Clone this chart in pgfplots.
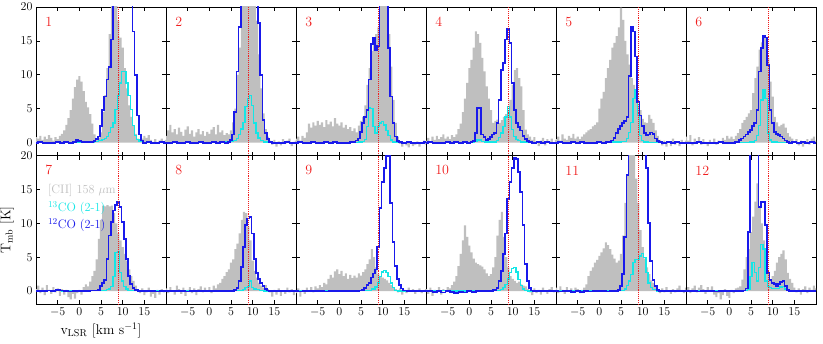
\documentclass[border=0pt]{standalone}
\usepackage{pgfplots}
\pgfplotsset{compat=1.18}
\usepgfplotslibrary{groupplots}
\definecolor{ciigray}{RGB}{191,191,191}
\definecolor{coblue}{RGB}{25,25,235}
\definecolor{cocyan}{RGB}{20,230,230}
\definecolor{vred}{RGB}{240,30,30}
\pgfplotsset{
  cii/.style={fill=ciigray, draw=none, const plot mark mid},
  c13/.style={cocyan, line width=1.3pt, const plot mark mid},
  c12/.style={coblue, line width=1.8pt, const plot mark mid},
  vline/.style={vred, densely dotted, line width=0.9pt},
}
\tikzset{num/.style={vred, anchor=west, font=\fontsize{14}{14}\selectfont},
  leg/.style={anchor=west, inner sep=0pt, font=\fontsize{12.3}{12.3}\selectfont}}
\begin{document}
\begin{tikzpicture}
\begin{groupplot}[
  group style={group size=6 by 2, horizontal sep=0pt, vertical sep=0pt,
    xticklabels at=edge bottom, yticklabels at=edge left},
  scale only axis, width=130pt, height=148.5pt,
  xmin=-10, xmax=20, ymin=-1.9, ymax=20,
  xtick={-5,0,5,10,15}, ytick={0,5,10,15,20},
  tick pos=both, tick align=inside, major tick length=4pt,
  axis line style={line width=0.8pt}, every tick/.style={black, line width=0.8pt},
  tick label style={font=\fontsize{12}{12}\selectfont},
  label style={font=\fontsize{14}{14}\selectfont},
]
% ---------- 1 ----------
\nextgroupplot
\addplot[cii] coordinates {(-10,0.8)(-9.5,0.6)(-9,1.0)(-8.5,0.4)(-8,0.9)(-7.5,0.5)(-7,1.1)(-6.5,0.7)(-6,0.3)(-5.5,0.8)(-5,0.5)(-4.5,1.0)(-4,1.3)(-3.5,1.8)(-3,2.6)(-2.5,3.6)(-2,4.8)(-1.5,6.5)(-1,8.2)(-0.5,9.3)(0,9.8)(0.5,9.0)(1,7.6)(1.5,6.0)(2,5.2)(2.5,4.2)(3,2.8)(3.5,1.2)(4,0.4)(4.5,0.7)(5,1.5)(5.5,4.5)(6,7)(6.5,11)(7,16)(7.5,20.5)(8,22)(8.5,21.5)(9,18)(9.5,15.5)(10,14)(10.5,11)(11,8)(11.5,5.5)(12,3.8)(12.5,2.5)(13,1.3)(13.5,0.6)(14,0.2)(14.5,0.6)(15,1.0)(15.5,0.7)(16,1.1)(16.5,0.4)(17,0.1)(17.5,0.5)(18,-0.2)(18.5,0.3)(19,0.6)(19.5,0.2)(20,0.4)} \closedcycle;
\addplot[c13] coordinates {(-10,0)(-8,0.05)(-6,0)(-4,0.05)(-2,0)(0,0.1)(2,0)(3,0.1)(4,0.2)(5,0.3)(5.5,0.5)(6,0.6)(6.5,0.9)(7,1.5)(7.5,2.2)(8,2.9)(8.5,4.9)(9,6.9)(9.5,8.8)(10,10.5)(10.5,10.5)(11,8.8)(11.5,6.9)(12,4.9)(12.5,2.5)(13,1.0)(13.5,0.5)(14,0.2)(15,0.05)(16,0)(18,0.05)(20,0)};
\addplot[c12] coordinates {(-10,0)(-9,0.1)(-8,0)(-7,-0.1)(-6,0)(-5,0.1)(-4,0)(-3,0.1)(-2,0)(-1,0.15)(-0.5,0.35)(0,0.2)(1,0.05)(2,0.1)(3,0.1)(3.5,0.2)(4,0.5)(4.5,0.9)(5,2.4)(5.5,4.8)(6,6.8)(6.5,9.3)(7,11.2)(7.5,15.2)(8,30)(12,30)(12.5,16.4)(13,10)(13.5,4)(14,1.2)(14.5,0.3)(15,0)(16,0.1)(17,0)(18,-0.05)(19,0.05)(20,0)};
\addplot[vline] coordinates {(9,-2)(9,21)};
\node[num] at (rel axis cs:0.045,0.9) {1};
% ---------- 2 ----------
\nextgroupplot
\addplot[cii] coordinates {(-10,1.0)(-9.5,1.8)(-9,2.6)(-8.5,1.5)(-8,2.0)(-7.5,1.2)(-7,2.2)(-6.5,1.6)(-6,1.0)(-5.5,1.9)(-5,2.4)(-4.5,1.3)(-4,1.8)(-3.5,0.9)(-3,1.5)(-2.5,2.0)(-2,1.2)(-1.5,1.7)(-1,1.0)(-0.5,1.6)(0,1.3)(0.5,1.9)(1,2.3)(1.5,1.2)(2,2.6)(2.5,1.5)(3,1.8)(3.5,1.1)(4,1.4)(4.5,1.2)(5,1.8)(5.5,3.0)(6,5.0)(6.5,10)(7,14)(7.5,21)(8,24)(8.5,24)(9,24)(9.5,24)(10,24)(10.5,24)(11,18)(11.5,13)(12,8)(12.5,4.3)(13,2.0)(13.5,0.9)(14,0.3)(14.5,-0.3)(15,0.4)(15.5,-0.6)(16,0.2)(16.5,-0.4)(17,0.5)(17.5,-0.2)(18,0.3)(18.5,0.6)(19,-0.5)(19.5,0.1)(20,0.3)} \closedcycle;
\addplot[c13] coordinates {(-10,0)(-6,0.05)(-2,0)(2,0.05)(4,0.1)(5,0.2)(6,0.3)(6.5,0.6)(7,1.2)(7.5,2.0)(8,3.0)(8.5,5.3)(9,6.5)(9.5,6.9)(10,5.5)(10.5,2.9)(11,1.4)(11.5,0.7)(12,0.3)(13,0.1)(14,0)(20,0)};
\addplot[c12] coordinates {(-10,-0.1)(-9,0)(-8,0.1)(-7,-0.05)(-6,0)(-5,0.05)(-4,-0.1)(-3,0)(-2,0.05)(-1,-0.05)(0,0)(1,0.05)(2,0)(3,0.05)(4,0)(4.5,0.1)(5,0.4)(5.5,1.2)(6,4.5)(6.5,10.5)(7,17)(7.5,30)(11,30)(11.5,17.6)(12,10)(12.5,3.3)(13,1.4)(13.5,0.5)(14,0.1)(15,0)(16,-0.05)(17,0)(18,0.05)(19,-0.05)(20,0)};
\addplot[vline] coordinates {(9,-2)(9,21)};
\node[num] at (rel axis cs:0.045,0.9) {2};
% ---------- 3 ----------
\nextgroupplot
\addplot[cii] coordinates {(-10,0.6)(-9.5,0.9)(-9,0.3)(-8.5,1.0)(-8,0.7)(-7.5,1.5)(-7,2.8)(-6.5,2.2)(-6,3.0)(-5.5,2.5)(-5,3.2)(-4.5,2.6)(-4,3.0)(-3.5,2.3)(-3,3.3)(-2.5,2.7)(-2,3.1)(-1.5,2.4)(-1,3.6)(-0.5,2.8)(0,2.5)(0.5,3.0)(1,2.2)(1.5,2.6)(2,2.0)(2.5,2.3)(3,1.7)(3.5,2.1)(4,1.5)(4.5,2.5)(5,3.2)(5.5,3.8)(6,5.5)(6.5,8.5)(7,11)(7.5,13.5)(8,15)(8.5,16)(9,17)(9.5,24)(10,24)(10.5,24)(11,22)(11.5,16)(12,11.2)(12.5,6.3)(13,2.9)(13.5,0.9)(14,-0.2)(14.5,-0.6)(15,0.1)(15.5,-0.4)(16,-0.7)(16.5,0.2)(17,-0.5)(17.5,-0.3)(18,0.2)(18.5,-0.6)(19,-0.2)(19.5,0.3)(20,-0.3)} \closedcycle;
\addplot[c13] coordinates {(-10,0)(-6,0.05)(-2,0)(2,0.05)(4,0.05)(5,0.1)(5.5,0.2)(6,0.5)(6.5,2.4)(7,5.1)(7.5,5.0)(8,2.4)(8.5,1.4)(9,2.4)(9.5,2.9)(10,3.1)(10.5,2.6)(11,1.8)(11.5,1.0)(12,0.4)(12.5,0.1)(14,0)(20,0)};
\addplot[c12] coordinates {(-10,0)(-9,0.05)(-8,-0.05)(-7,0)(-6,0.1)(-5,0)(-4,-0.05)(-3,0.05)(-2,0)(-1,0.05)(0,0)(1,-0.05)(2,0)(3,0.05)(3.5,0.1)(4,0.3)(4.5,0.6)(5,1.6)(5.5,2.9)(6,3.8)(6.5,4.8)(7,9.3)(7.5,14.5)(8,15.4)(8.5,13.7)(9,14.2)(9.5,30)(11,30)(11.5,14)(12,6.8)(12.5,2.9)(13,0.9)(13.5,0.2)(14,0.05)(15,0)(16,0.05)(17,0)(18,-0.05)(19,0)(20,0.05)};
\addplot[vline] coordinates {(9,-2)(9,21)};
\node[num] at (rel axis cs:0.045,0.9) {3};
% ---------- 4 ----------
\nextgroupplot
\addplot[cii] coordinates {(-10,0.3)(-9.5,0.7)(-9,0.2)(-8.5,0.9)(-8,0.4)(-7.5,1.0)(-7,0.5)(-6.5,0.8)(-6,1.2)(-5.5,0.6)(-5,0.9)(-4.5,0.5)(-4,1.1)(-3.5,0.8)(-3,1.2)(-2.5,2.0)(-2,2.8)(-1.5,4.5)(-1,6.5)(-0.5,8.8)(0,11)(0.5,12.2)(1,14)(1.5,16.4)(2,16.0)(2.5,14.7)(3,12.5)(3.5,10.5)(4,8.3)(4.5,6.5)(5,4.8)(5.5,2.9)(6,3.2)(6.5,3.4)(7,2.9)(7.5,3.3)(8,3.8)(8.5,4.2)(9,4.8)(9.5,6.3)(10,8.5)(10.5,10.7)(11,11)(11.5,9.5)(12,8.3)(12.5,4.8)(13,1.9)(13.5,1.2)(14,0.9)(14.5,0.4)(15,0.8)(15.5,0.2)(16,-0.5)(16.5,0.3)(17,0.7)(17.5,-0.4)(18,0.5)(18.5,0.2)(19,0.6)(19.5,-0.2)(20,0.4)} \closedcycle;
\addplot[c13] coordinates {(-10,0)(-6,0.05)(-2,0)(0,0.05)(1,0.05)(1.5,0.2)(2,0.4)(2.5,0.4)(3,0.2)(4,0.1)(6,0.1)(6.5,0.3)(7,0.8)(7.5,1.4)(8,2.4)(8.5,3.8)(9,5.3)(9.5,3.8)(10,1.9)(10.5,0.9)(11,0.5)(11.5,0.3)(12,0.1)(14,0)(20,0)};
\addplot[c12] coordinates {(-10,0)(-9,0.05)(-8,0)(-7,-0.05)(-6,0)(-5,0.05)(-4,0)(-3,0.05)(-2,0)(-1,0.05)(0,0)(0.5,0.05)(1,0.2)(1.5,1.4)(2,5.1)(2.5,5.1)(3,1.2)(3.5,0.8)(4,0.4)(4.5,0.5)(5,0.8)(5.5,1.2)(6,1.4)(6.5,2.9)(7,6.3)(7.5,10.7)(8,11.7)(8.5,15.2)(9,16.7)(9.5,14.7)(10,8.8)(10.5,4.8)(11,2.9)(11.5,2.3)(12,1.8)(12.5,1.0)(13,0.5)(13.5,0.2)(14,0.05)(15,0)(16,0.05)(17,0)(18,0.05)(19,0)(20,0)};
\addplot[vline] coordinates {(9,-2)(9,21)};
\node[num] at (rel axis cs:0.045,0.9) {4};
% ---------- 5 ----------
\nextgroupplot
\addplot[cii] coordinates {(-10,0.5)(-9.5,0.9)(-9,0.3)(-8.5,1.2)(-8,0.6)(-7.5,0.4)(-7,1.0)(-6.5,0.7)(-6,1.3)(-5.5,0.6)(-5,0.9)(-4.5,0.5)(-4,0.9)(-3.5,1.2)(-3,1.5)(-2.5,1.8)(-2,2.0)(-1.5,2.4)(-1,2.6)(-0.5,3.0)(0,5.0)(0.5,6.5)(1,7.5)(1.5,9.5)(2,11)(2.5,12.2)(3,14)(3.5,14.7)(4,15.7)(4.5,17)(5,19.9)(5.5,18.1)(6,15)(6.5,13)(7,11.5)(7.5,9.5)(8,8.5)(8.5,6.5)(9,5.5)(9.5,4.8)(10,3.5)(10.5,3.0)(11,2.9)(11.5,4.1)(12,3.5)(12.5,2.9)(13,1.8)(13.5,1.0)(14,0.4)(14.5,-0.4)(15,0.3)(15.5,-0.6)(16,0.2)(16.5,-0.5)(17,0.6)(17.5,-0.3)(18,0.2)(18.5,-0.5)(19,0.4)(19.5,-0.2)(20,0.3)} \closedcycle;
\addplot[c13] coordinates {(-10,0)(-6,0.05)(-2,0)(2,0.05)(4,0.1)(6,0.2)(6.5,0.6)(7,1.5)(7.5,3)(8,6.5)(8.5,7.8)(9,4)(9.5,1.0)(10,0.3)(10.5,0.1)(12,0.05)(14,0)(20,0)};
\addplot[c12] coordinates {(-10,0)(-9,0.05)(-8,-0.05)(-7,0)(-6,0.05)(-5,0)(-4,0.05)(-3,0)(-2,-0.05)(-1,0)(0,0.05)(1,0)(2,0.05)(2.5,0.1)(3,0.3)(3.5,0.7)(4,1.4)(4.5,2.0)(5,2.4)(5.5,2.9)(6,3.2)(6.5,3.8)(7,9.8)(7.5,17.1)(8,16.4)(8.5,12.7)(9,6)(9.5,4.0)(10,2.5)(10.5,1.4)(11,1.1)(11.5,1.2)(12,1.5)(12.5,1.3)(13,0.6)(13.5,0.2)(14,0.05)(15,0)(16,0.05)(17,0)(18,0.05)(19,0)(20,0)};
\addplot[vline] coordinates {(9,-2)(9,21)};
\node[num] at (rel axis cs:0.045,0.9) {5};
% ---------- 6 ----------
\nextgroupplot
\addplot[cii] coordinates {(-10,0.9)(-9.5,0.3)(-9,1.1)(-8.5,-0.4)(-8,0.6)(-7.5,0.2)(-7,0.8)(-6.5,-0.3)(-6,0.5)(-5.5,0.1)(-5,-0.5)(-4.5,0.4)(-4,0.0)(-3.5,0.6)(-3,-0.3)(-2.5,0.3)(-2,0.1)(-1.5,0.7)(-1,0.4)(-0.5,1.0)(0,0.6)(0.5,0.9)(1,0.5)(1.5,1.0)(2,1.4)(2.5,2.0)(3,2.9)(3.5,3.3)(4,3.8)(4.5,4.3)(5,4.8)(5.5,7.3)(6,9.5)(6.5,11.2)(7,13.7)(7.5,14.8)(8,15.7)(8.5,15.5)(9,12.5)(9.5,9)(10,6.8)(10.5,3.8)(11,3.0)(11.5,2.4)(12,2.6)(12.5,2.8)(13,2.2)(13.5,1.4)(14,0.9)(14.5,0.6)(15,0.0)(15.5,0.5)(16,-0.4)(16.5,0.3)(17,-0.6)(17.5,0.2)(18,0.5)(18.5,-0.3)(19,0.6)(19.5,0.9)(20,0.3)} \closedcycle;
\addplot[c13] coordinates {(-10,0)(-6,0.05)(-2,0)(2,0.05)(4,0.05)(5.5,0.1)(6,0.3)(6.5,1.0)(7,2.5)(7.5,6.3)(8,7.8)(8.5,6.5)(9,1.4)(9.5,0.4)(10,0.1)(12,0.05)(14,0)(20,0)};
\addplot[c12] coordinates {(-10,0)(-9,-0.05)(-8,0)(-7,0.05)(-6,-0.05)(-5,0)(-4,-0.1)(-3,0)(-2,0.05)(-1,0)(0,-0.05)(1,0)(1.5,0.05)(2,0.1)(2.5,0.4)(3,0.6)(3.5,0.9)(4,1.2)(4.5,1.6)(5,1.9)(5.5,2.4)(6,2.9)(6.5,4.8)(7,10.5)(7.5,13.9)(8,15.7)(8.5,15.5)(9,11.5)(9.5,4.8)(10,2.9)(10.5,1.6)(11,1.3)(11.5,1.1)(12,0.9)(12.5,0.6)(13,0.3)(13.5,0.1)(14,0)(15,0.05)(16,0)(17,0.05)(18,0)(19,0.05)(20,0)};
\addplot[vline] coordinates {(9,-2)(9,21)};
\node[num] at (rel axis cs:0.045,0.9) {6};
% ---------- 7 ----------
\nextgroupplot[xlabel={v$_\mathrm{LSR}$ [km s$^{-1}$]}, ylabel={T$_\mathrm{mb}$ [K]}]
\addplot[cii] coordinates {(-10,0.3)(-9.5,0.8)(-9,-0.3)(-8.5,0.5)(-8,-0.6)(-7.5,0.9)(-7,0.2)(-6.5,-0.4)(-6,0.6)(-5.5,-0.2)(-5,0.4)(-4.5,-0.7)(-4,0.3)(-3.5,-0.5)(-3,0.2)(-2.5,-0.9)(-2,-1.2)(-1.5,-0.4)(-1,-1.1)(-0.5,-0.3)(0,0.2)(0.5,-0.5)(1,0.6)(1.5,1.0)(2,0.7)(2.5,1.4)(3,2.2)(3.5,3.0)(4,4.7)(4.5,7.7)(5,10.5)(5.5,12.6)(6,12.5)(6.5,12.7)(7,12.5)(7.5,12.6)(8,11.5)(8.5,10)(9,8.5)(9.5,7.5)(10,6.5)(10.5,5.5)(11,4.5)(11.5,3.2)(12,2.2)(12.5,1.5)(13,0.8)(13.5,0.3)(14,-0.3)(14.5,0.4)(15,-0.6)(15.5,-0.2)(16,0.5)(16.5,-0.8)(17,-0.4)(17.5,-1.0)(18,0.2)(18.5,-0.5)(19,0.3)(19.5,-0.2)(20,0.1)} \closedcycle;
\addplot[c13] coordinates {(-10,0)(-6,0.05)(-2,0)(2,0.05)(4,0.05)(6,0.1)(6.5,0.2)(7,0.3)(7.5,0.7)(8,2.2)(8.5,5.7)(9,5.8)(9.5,2.7)(10,1.5)(10.5,0.7)(11,0.3)(11.5,0.1)(13,0.05)(15,0)(20,0)};
\addplot[c12] coordinates {(-10,0)(-9,0.05)(-8,0)(-7,0.1)(-6,0.05)(-5,0.2)(-4,0.1)(-3,0)(-2,-0.05)(-1,0)(0,0.05)(1,0)(2,0.05)(3,0.1)(4,0.1)(4.5,0.2)(5,0.7)(5.5,1.2)(6,1.7)(6.5,4.7)(7,8.2)(7.5,10.2)(8,11.9)(8.5,12.7)(9,13.2)(9.5,12.4)(10,10.2)(10.5,7.7)(11,4.7)(11.5,2.2)(12,1.0)(12.5,0.5)(13,0.2)(14,0.05)(15,0)(16,0.05)(17,0)(18,-0.05)(19,0)(20,0)};
\addplot[vline] coordinates {(9,-2)(9,21)};
\node[num] at (rel axis cs:0.045,0.9) {7};
\coordinate (legA) at (axis cs:-7.25,14.9);
\coordinate (legB) at (axis cs:-7.25,12.2);
\coordinate (legC) at (axis cs:-7.25,9.7);
% ---------- 8 ----------
\nextgroupplot
\addplot[cii] coordinates {(-10,0.4)(-9.5,-0.3)(-9,0.6)(-8.5,0.1)(-8,-0.5)(-7.5,0.8)(-7,0.3)(-6.5,-0.4)(-6,0.5)(-5.5,-0.7)(-5,0.2)(-4.5,0.6)(-4,-0.3)(-3.5,0.4)(-3,-0.6)(-2.5,0.3)(-2,0.7)(-1.5,-0.2)(-1,0.5)(-0.5,0.1)(0,0.6)(0.5,-0.3)(1,0.8)(1.5,0.4)(2,1.0)(2.5,1.2)(3,1.8)(3.5,2.2)(4,2.8)(4.5,3.2)(5,4.2)(5.5,4.7)(6,6.2)(6.5,7.0)(7,8.5)(7.5,10.5)(8,11.7)(8.5,11.5)(9,9.5)(9.5,7.5)(10,4.5)(10.5,3.0)(11,2.0)(11.5,1.2)(12,0.8)(12.5,0.5)(13,0.9)(13.5,0.3)(14,-0.2)(14.5,-0.8)(15,0.2)(15.5,-0.5)(16,0.4)(16.5,-0.7)(17,0.1)(17.5,-0.4)(18,0.5)(18.5,-0.2)(19,0.3)(19.5,-0.6)(20,0.2)} \closedcycle;
\addplot[c13] coordinates {(-10,0)(-6,0.05)(-2,0)(2,0.05)(5,0.05)(7.5,0.1)(8,0.2)(8.5,0.5)(9,0.7)(9.5,1.5)(10,0.5)(10.5,0.3)(11,0.2)(12,0.1)(13,0)(20,0)};
\addplot[c12] coordinates {(-10,0)(-9,0.05)(-8,0)(-7,0.05)(-6,0)(-5,-0.05)(-4,0)(-3,0.05)(-2,0)(-1,0.05)(0,0)(1,0.05)(2,0)(3,0.05)(4,0)(5,0.05)(5.5,0.05)(6,0.2)(6.5,0.5)(7,1.5)(7.5,3.5)(8,6.5)(8.5,9.7)(9,10.7)(9.5,10.9)(10,8.5)(10.5,4.7)(11,2.7)(11.5,1.8)(12,1.2)(12.5,0.7)(13,0.3)(13.5,0.1)(14,0)(15,0.05)(16,0)(17,0.05)(18,0)(19,0.05)(20,0)};
\addplot[vline] coordinates {(9,-2)(9,21)};
\node[num] at (rel axis cs:0.045,0.9) {8};
% ---------- 9 ----------
\nextgroupplot
\addplot[cii] coordinates {(-10,-0.3)(-9.5,0.4)(-9,-0.8)(-8.5,0.2)(-8,-0.4)(-7.5,0.5)(-7,0.1)(-6.5,0.6)(-6,-0.2)(-5.5,0.7)(-5,0.4)(-4.5,0.9)(-4,0.6)(-3.5,1.2)(-3,1.0)(-2.5,1.8)(-2,2.4)(-1.5,2.0)(-1,2.9)(-0.5,3.2)(0,2.5)(0.5,3.0)(1,2.2)(1.5,2.6)(2,1.8)(2.5,2.4)(3,1.9)(3.5,2.3)(4,2.0)(4.5,2.6)(5,2.3)(5.5,2.8)(6,3.2)(6.5,4.0)(7,4.7)(7.5,6.2)(8,5.0)(8.5,3.5)(9,2.5)(9.5,2.2)(10,2.0)(10.5,1.8)(11,1.6)(11.5,1.2)(12,0.9)(12.5,0.6)(13,0.3)(13.5,-0.2)(14,0.4)(14.5,-0.5)(15,0.2)(15.5,-0.3)(16,0.5)(16.5,-0.1)(17,0.3)(17.5,-0.4)(18,0.2)(18.5,0.4)(19,-0.3)(19.5,0.1)(20,0.3)} \closedcycle;
\addplot[c13] coordinates {(-10,0)(-6,0.05)(-2,0)(2,0.05)(5,0.05)(7,0.1)(8,0.3)(8.5,0.6)(9,1.2)(9.5,2.2)(10,2.8)(10.5,3.0)(11,2.7)(11.5,2.2)(12,1.2)(12.5,0.5)(13,0.1)(14,0)(20,0)};
\addplot[c12] coordinates {(-10,0)(-9,-0.05)(-8,0)(-7,0.05)(-6,0)(-5,0.05)(-4,0)(-3,-0.05)(-2,0)(-1,0.05)(0,0)(1,0.05)(2,0)(3,0.05)(4,0.05)(5,0.1)(5.5,0.2)(6,0.5)(6.5,0.9)(7,1.2)(7.5,2.0)(8,2.6)(8.5,3.2)(9,6.5)(9.5,12.2)(10,16.1)(10.5,18.1)(11,19.9)(11.5,19.9)(12,13)(12.5,7.2)(13,3.7)(13.5,1.8)(14,0.9)(14.5,0.4)(15,0.1)(16,0.05)(17,0)(18,0.05)(19,0)(20,0)};
\addplot[vline] coordinates {(9,-2)(9,21)};
\node[num] at (rel axis cs:0.045,0.9) {9};
% ---------- 10 ----------
\nextgroupplot
\addplot[cii] coordinates {(-10,0.3)(-9.5,-0.4)(-9,0.5)(-8.5,-0.7)(-8,0.2)(-7.5,-0.3)(-7,0.6)(-6.5,-0.5)(-6,0.3)(-5.5,0.1)(-5,0.6)(-4.5,0.4)(-4,0.9)(-3.5,1.4)(-3,2.2)(-2.5,3.7)(-2,5.5)(-1.5,7.5)(-1,9.7)(-0.5,8.0)(0,6.7)(0.5,5.7)(1,4.8)(1.5,4.2)(2,4.0)(2.5,3.8)(3,3.6)(3.5,3.2)(4,2.6)(4.5,2.2)(5,2.5)(5.5,3.5)(6,5.0)(6.5,8.2)(7,10.5)(7.5,11.7)(8,8)(8.5,5.0)(9,3.5)(9.5,2.2)(10,1.8)(10.5,1.5)(11,1.2)(11.5,1.4)(12,1.0)(12.5,0.8)(13,0.7)(13.5,0.3)(14,-0.2)(14.5,-0.6)(15,0.4)(15.5,-0.3)(16,0.2)(16.5,-0.5)(17,0.5)(17.5,0.1)(18,-0.4)(18.5,0.3)(19,0.6)(19.5,-0.2)(20,0.2)} \closedcycle;
\addplot[c13] coordinates {(-10,0)(-6,0.05)(-2,0)(2,0.05)(5,0.05)(7,0.1)(7.5,0.2)(8,0.5)(8.5,1.0)(9,1.8)(9.5,2.7)(10,3.3)(10.5,3.5)(11,2.8)(11.5,1.7)(12,0.8)(12.5,0.3)(13,0.1)(14,0)(20,0)};
\addplot[c12] coordinates {(-10,0)(-9,0.05)(-8,-0.1)(-7,0)(-6,-0.2)(-5,0)(-4,-0.1)(-3,-0.3)(-2,-0.1)(-1,-0.2)(0,0)(1,-0.1)(2,0)(3,0.05)(4,0)(5,0.05)(6,0.2)(6.5,0.5)(7,1.5)(7.5,3.0)(8,5.5)(8.5,8.5)(9,13.6)(9.5,16.1)(10,18.1)(10.5,19.6)(11,19.5)(11.5,17.6)(12,14.6)(12.5,9.7)(13,4.0)(13.5,1.5)(14,0.5)(14.5,0.1)(15,0)(16,0.05)(17,0)(18,0.05)(19,0)(20,0)};
\addplot[vline] coordinates {(9,-2)(9,21)};
\node[num] at (rel axis cs:0.045,0.9) {10};
% ---------- 11 ----------
\nextgroupplot
\addplot[cii] coordinates {(-10,0.5)(-9.5,-0.3)(-9,0.7)(-8.5,0.2)(-8,-0.4)(-7.5,0.6)(-7,0.1)(-6.5,0.4)(-6,-0.2)(-5.5,0.5)(-5,0.3)(-4.5,-0.3)(-4,0.2)(-3.5,0.5)(-3,1.0)(-2.5,2.2)(-2,3.0)(-1.5,3.5)(-1,4.2)(-0.5,4.6)(0,5.2)(0.5,5.7)(1,6.3)(1.5,7.2)(2,6.8)(2.5,6.2)(3,5.4)(3.5,4.8)(4,4.2)(4.5,4.5)(5,5.5)(5.5,8.2)(6,13)(6.5,17)(7,20.5)(7.5,23)(8,22)(8.5,16.6)(9,13)(9.5,9)(10,6.5)(10.5,4.8)(11,3.5)(11.5,2.5)(12,1.6)(12.5,1.2)(13,0.6)(13.5,0.2)(14,-0.3)(14.5,0.4)(15,-0.2)(15.5,0.6)(16,0.1)(16.5,-0.4)(17,0.3)(17.5,-0.2)(18,0.4)(18.5,0.8)(19,0.2)(19.5,-0.3)(20,0.5)} \closedcycle;
\addplot[c13] coordinates {(-10,0)(-6,0.05)(-2,0)(2,0.05)(5,0.05)(5.5,0.1)(6,0.3)(6.5,0.8)(7,1.5)(7.5,2.5)(8,4.2)(8.5,4.7)(9,4.7)(9.5,5.2)(10,5.5)(10.5,5.0)(11,2.7)(11.5,1.2)(12,0.5)(12.5,0.2)(14,0)(20,0)};
\addplot[c12] coordinates {(-10,0)(-9,-0.05)(-8,0)(-7,0.05)(-6,-0.1)(-5,0)(-4,-0.1)(-3,0)(-2,-0.05)(-1,0)(0,0.05)(1,0)(2,-0.05)(3,0)(4,0.05)(4.5,0.2)(5,0.8)(5.5,2.5)(6,8)(6.5,17.1)(7,30)(10.5,30)(11,18.1)(11.5,10)(12,4.5)(12.5,1.7)(13,0.7)(13.5,0.2)(14,0.05)(15,0)(16,0.05)(17,0)(18,0.05)(19,0)(20,0)};
\addplot[vline] coordinates {(9,-2)(9,21)};
\node[num] at (rel axis cs:0.045,0.9) {11};
% ---------- 12 ----------
\nextgroupplot
\addplot[cii] coordinates {(-10,0.2)(-9.5,0.6)(-9,-0.3)(-8.5,0.4)(-8,0.8)(-7.5,-0.2)(-7,0.5)(-6.5,0.9)(-6,0.3)(-5.5,-0.4)(-5,0.6)(-4.5,0.2)(-4,0.7)(-3.5,-0.5)(-3,-0.9)(-2.5,-0.3)(-2,-1.2)(-1.5,-0.6)(-1,0.3)(-0.5,-0.7)(0,-1.0)(0.5,0.2)(1,-0.3)(1.5,0.4)(2,0.5)(2.5,0.7)(3,1.7)(3.5,3.2)(4,5)(4.5,6.2)(5,8.7)(5.5,11)(6,13.2)(6.5,15.9)(7,12.5)(7.5,10)(8,7.5)(8.5,4.5)(9,2.5)(9.5,1.7)(10,2.2)(10.5,3.0)(11,4.2)(11.5,5.0)(12,5.5)(12.5,6.0)(13,4.7)(13.5,2.7)(14,1.8)(14.5,1.2)(15,0.5)(15.5,-0.2)(16,0.4)(16.5,-0.5)(17,0.3)(17.5,0.7)(18,-0.3)(18.5,0.5)(19,0.2)(19.5,0.8)(20,0.4)} \closedcycle;
\addplot[c13] coordinates {(-10,0)(-6,0.05)(-2,0)(2,0.05)(4,0.1)(4.5,0.3)(5,2.2)(5.5,4.2)(6,2.7)(6.5,1.5)(7,3.5)(7.5,6.9)(8,6.2)(8.5,1.5)(9,0.7)(9.5,0.5)(10,0.4)(11,0.4)(12,0.6)(12.5,0.7)(13,0.3)(13.5,0.1)(15,0)(20,0)};
\addplot[c12] coordinates {(-10,0)(-9,0.05)(-8,0)(-7,-0.05)(-6,0)(-5,0.05)(-4,0)(-3,-0.05)(-2,0)(-1,0.05)(0,0)(1,0.05)(2,0)(3,0.05)(3.5,0.1)(4,0.4)(4.5,8.7)(5,30)(6.5,30)(7,12.4)(7.5,13.2)(8,13.2)(8.5,9.7)(9,2.7)(9.5,1.7)(10,1.2)(10.5,1.0)(11,0.8)(11.5,1.1)(12,1.4)(12.5,1.5)(13,0.7)(13.5,0.2)(14,0.05)(15,0)(16,0.05)(17,0)(18,0.05)(19,0)(20,0)};
\addplot[vline] coordinates {(9,-2)(9,21)};
\node[num] at (rel axis cs:0.045,0.9) {12};
\end{groupplot}
% legend text of panel 7, drawn on top of the curves
\node[leg, text=ciigray] at (legA) {[CII] 158 $\mu$m};
\node[leg, text=cocyan] at (legB) {$^{13}$CO (2-1)};
\node[leg, text=coblue] at (legC) {$^{12}$CO (2-1)};
\pgfresetboundingbox
\path[use as bounding box] ([shift={(-36pt,-39pt)}]group c1r2.south west) rectangle ([shift={(7pt,7pt)}]group c6r1.north east);
\end{tikzpicture}
\end{document}
